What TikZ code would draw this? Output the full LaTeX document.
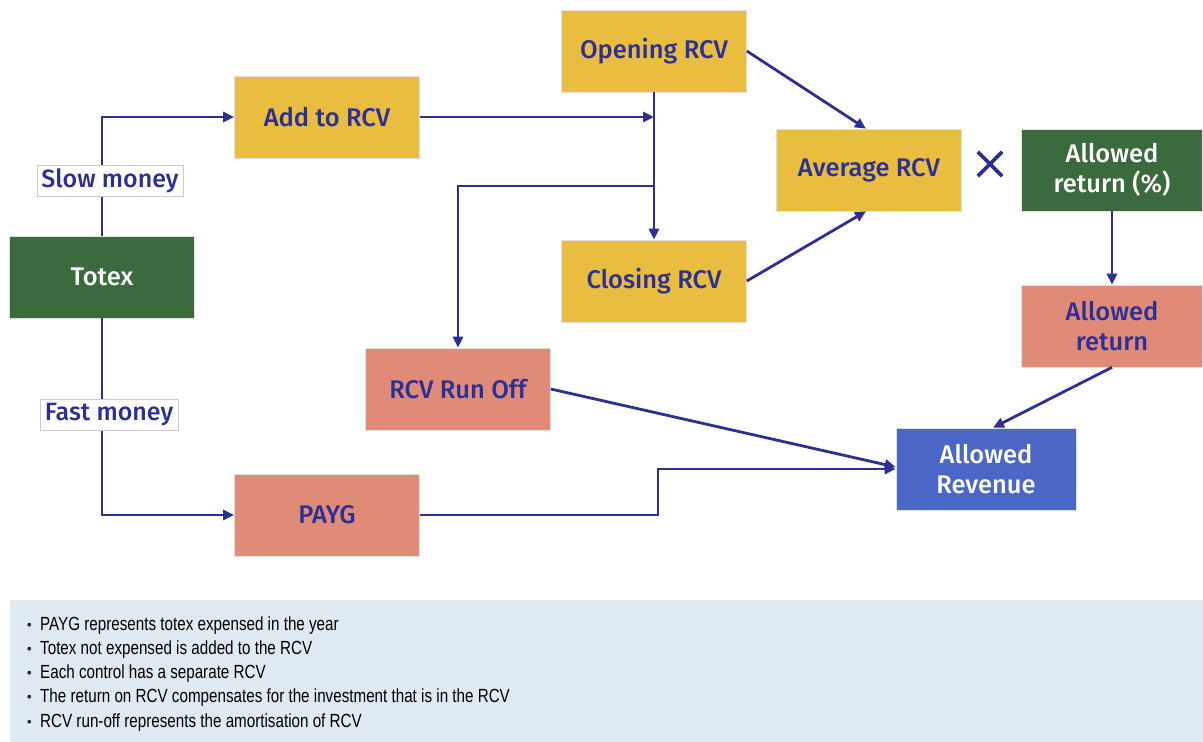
\documentclass[tikz,border=0pt]{standalone}
\usepackage{fontspec}
\setmainfont{Liberation Sans}
\newfontfamily\boxfont{Fira Sans}[UprightFont={* Medium}]
\newfontfamily\notefont{Liberation Sans}[FakeStretch=0.8]
\usetikzlibrary{arrows.meta}

\definecolor{rcvyellow}{HTML}{E8BD40}
\definecolor{totexgreen}{HTML}{3B6B3C}
\definecolor{paysalmon}{HTML}{E08A78}
\definecolor{revblue}{HTML}{4A67C8}
\definecolor{flownavy}{HTML}{2B2F96}
\definecolor{notepanel}{HTML}{DFE9F2}

\tikzset{
  block/.style={rectangle, minimum width=185pt, minimum height=82pt, inner sep=0pt,
    draw=black!12, line width=0.6pt, align=center,
    font=\boxfont\fontsize{25.5}{30}\selectfont},
  yellowblock/.style={block, fill=rcvyellow, text=flownavy},
  salmonblock/.style={block, fill=paysalmon, text=flownavy},
  greenblock/.style={block, fill=totexgreen, text=white},
  blueblock/.style={block, fill=revblue, text=white},
  flow/.style={draw=flownavy, line width=2.8pt,
    -{Triangle[length=11pt,width=10pt]}},
  tag/.style={rectangle, fill=white, draw=black!20, line width=0.8pt,
    minimum width=146pt, minimum height=31pt, inner sep=0pt, text=flownavy,
    font=\boxfont\fontsize{25}{26}\selectfont}
}

\begin{document}
\begin{tikzpicture}[x=1pt, y=-1pt]
    \useasboundingbox (0,0) rectangle (1203,742);

    % boxes
    \node[greenblock] (totex) at (102,277) {Totex};
    \node[yellowblock] (add) at (327,117) {Add to RCV};
    \node[yellowblock] (open) at (654,51) {Opening RCV};
    \node[yellowblock] (close) at (654,281) {Closing RCV};
    \node[yellowblock] (avg) at (869,170) {Average RCV};
    \node[greenblock, minimum width=181pt] (pct) at (1112,170) {Allowed\\return (\%)};
    \node[salmonblock, minimum width=181pt] (ret) at (1112,326) {Allowed\\return};
    \node[salmonblock] (runoff) at (458,389) {RCV Run Off};
    \node[salmonblock] (payg) at (327,515) {PAYG};
    \node[blueblock, minimum width=180pt] (rev) at (986,469) {Allowed\\Revenue};

    % the times sign
    \node[minimum size=24pt, inner sep=0pt] (times) at (990,164) {};
    \draw[flownavy, line width=3.6pt] (times.north west) -- (times.south east)
        (times.north east) -- (times.south west);

    % junctions
    \coordinate (addin) at (654,117);
    \coordinate (split) at (654,186);
    \coordinate (paygbend) at (658,515);

    % connectors
    \draw[flow] (totex.north) |- (add.west);
    \draw[flow] (totex.south) |- (payg.west);
    \draw[flow] (add.east) -- (addin);
    \draw[flow] (open.south) -- (close.north);
    \draw[flow] (split) -| (runoff.north);
    \draw[flow] (open.east) -- ([xshift=-3pt]avg.north);
    \draw[flow] (close.east) -- ([xshift=-3pt]avg.south);
    \draw[flow] (pct.south) -- (ret.north);
    \draw[flow] (ret.south) -- ([xshift=7pt]rev.north);
    \draw[flow] (runoff.east) -- ([yshift=2pt]rev.west);
    \draw[flow] (payg.east) -- (paygbend) |- (rev.west);

    % labels on the totex lines
    \node[tag] (slow) at (110,181) {Slow money};
    \node[tag, minimum width=138pt] (fast) at (109,415) {Fast money};

    % notes
    \fill[notepanel] (10,600) rectangle (1203,742);
    \draw[black!10, line width=1pt] (10,600) -- (1203,600);
    \foreach \t [count=\i] in {PAYG represents totex expensed in the year,
        Totex not expensed is added to the RCV,
        Each control has a separate RCV,
        The return on RCV compensates for the investment that is in the RCV,
        RCV run-off represents the amortisation of RCV}
    {
        \node[anchor=base west, inner sep=0pt, font=\fontsize{13}{19}\selectfont] (dot\i) at (27,629+24.3*\i-24.3) {•};
        \node[anchor=base west, inner sep=0pt, font=\notefont\fontsize{19}{21}\selectfont] (note\i) at (40,630+24.3*\i-24.3) {\t};
    }
\end{tikzpicture}
\end{document}
